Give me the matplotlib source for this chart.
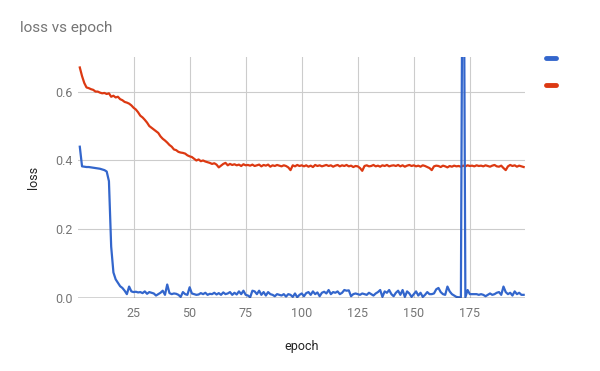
import numpy as np
import matplotlib.pyplot as plt
from matplotlib.lines import Line2D

plt.rcParams['font.family'] = ['Roboto', 'DejaVu Sans']

epochs = np.arange(1, 200)

# training loss (blue)
loss = [0.440, 0.383, 0.382, 0.381, 0.381, 0.380, 0.379, 0.378, 0.377, 0.376,
        0.374, 0.372, 0.368, 0.340, 0.150, 0.075, 0.055, 0.045, 0.035, 0.030,
        0.022, 0.012, 0.034, 0.020, 0.018, 0.019, 0.017, 0.018, 0.015, 0.020,
        0.013, 0.018, 0.016, 0.014, 0.008, 0.012, 0.016, 0.022, 0.010, 0.040,
        0.015, 0.012, 0.014, 0.013, 0.010, 0.004, 0.018, 0.012, 0.010, 0.032,
        0.014, 0.012, 0.010, 0.011, 0.015, 0.012, 0.016, 0.010, 0.013, 0.012,
        0.016, 0.011, 0.015, 0.010, 0.017, 0.012, 0.014, 0.018, 0.010, 0.016,
        0.011, 0.020, 0.012, 0.022, 0.010, 0.008, 0.003, 0.022, 0.020, 0.012,
        0.022, 0.010, 0.018, 0.008, 0.018, 0.012, 0.010, 0.006, 0.012, 0.010,
        0.008, 0.012, 0.005, 0.012, 0.010, 0.004, 0.014, 0.003, 0.010, 0.014,
        0.006, 0.015, 0.018, 0.010, 0.020, 0.012, 0.017, 0.006, 0.016, 0.019,
        0.014, 0.024, 0.012, 0.018, 0.016, 0.020, 0.012, 0.016, 0.024, 0.022,
        0.023, 0.006, 0.012, 0.014, 0.012, 0.010, 0.014, 0.012, 0.010, 0.016,
        0.012, 0.008, 0.014, 0.018, 0.024, 0.004, 0.020, 0.016, 0.024, 0.012,
        0.006, 0.016, 0.022, 0.010, 0.024, 0.004, 0.020, 0.014, 0.004, 0.012,
        0.020, 0.008, 0.016, 0.004, 0.010, 0.018, 0.012, 0.012, 0.014, 0.026,
        0.030, 0.018, 0.012, 0.010, 0.034, 0.020, 0.012, 0.008, 0.004, 0.003,
        0.003, 1.500, 0.003, 0.024, 0.012, 0.012, 0.012, 0.012, 0.010, 0.012,
        0.010, 0.006, 0.010, 0.014, 0.010, 0.012, 0.016, 0.018, 0.010, 0.034,
        0.018, 0.012, 0.016, 0.008, 0.020, 0.012, 0.016, 0.010, 0.010]

# validation loss (red)
val_loss = [0.670, 0.645, 0.625, 0.612, 0.610, 0.607, 0.605, 0.600, 0.600, 0.597,
            0.595, 0.596, 0.593, 0.595, 0.585, 0.588, 0.583, 0.585, 0.578, 0.575,
            0.570, 0.568, 0.565, 0.560, 0.553, 0.548, 0.540, 0.530, 0.525, 0.518,
            0.510, 0.500, 0.495, 0.490, 0.485, 0.480, 0.470, 0.463, 0.458, 0.452,
            0.445, 0.440, 0.432, 0.430, 0.425, 0.423, 0.422, 0.420, 0.415, 0.412,
            0.410, 0.405, 0.400, 0.403, 0.398, 0.400, 0.397, 0.395, 0.393, 0.390,
            0.392, 0.388, 0.380, 0.385, 0.390, 0.393, 0.386, 0.390, 0.387, 0.389,
            0.386, 0.388, 0.384, 0.389, 0.386, 0.387, 0.385, 0.388, 0.384, 0.386,
            0.388, 0.383, 0.387, 0.385, 0.388, 0.382, 0.386, 0.384, 0.387, 0.385,
            0.383, 0.386, 0.384, 0.380, 0.372, 0.386, 0.383, 0.387, 0.384, 0.386,
            0.383, 0.386, 0.382, 0.385, 0.381, 0.387, 0.384, 0.386, 0.383, 0.385,
            0.387, 0.384, 0.386, 0.382, 0.385, 0.387, 0.383, 0.386, 0.384, 0.387,
            0.383, 0.385, 0.381, 0.384, 0.383, 0.378, 0.370, 0.384, 0.386, 0.383,
            0.384, 0.387, 0.383, 0.385, 0.382, 0.386, 0.384, 0.387, 0.383, 0.385,
            0.386, 0.384, 0.387, 0.383, 0.386, 0.382, 0.385, 0.387, 0.384, 0.386,
            0.383, 0.385, 0.382, 0.386, 0.384, 0.381, 0.378, 0.372, 0.383, 0.385,
            0.384, 0.381, 0.385, 0.383, 0.380, 0.384, 0.382, 0.385, 0.383, 0.384,
            0.382, 0.385, 0.383, 0.386, 0.384, 0.385, 0.383, 0.386, 0.384, 0.385,
            0.383, 0.386, 0.384, 0.382, 0.385, 0.387, 0.383, 0.382, 0.385, 0.378,
            0.372, 0.383, 0.387, 0.384, 0.386, 0.382, 0.385, 0.383, 0.381]

xticks = [25, 50, 75, 100, 125, 150, 175]
yticks = [0.0, 0.2, 0.4, 0.6]

blue = '#3366cc'
red = '#dc3912'

fig = plt.figure(figsize=(6, 3.71), dpi=100)
ax = fig.add_axes([0.13, 0.196, 0.745, 0.650])

ax.plot(epochs, val_loss, color=red, lw=1.6, zorder=3)
ax.plot(epochs, loss, color=blue, lw=1.6, zorder=4)

ax.set_xlim(0.2, 199.6)
ax.set_ylim(0, 0.70)
ax.set_xticks(xticks)
ax.set_yticks(yticks)
ax.set_yticklabels(['0.0', '0.2', '0.4', '0.6'])
ax.grid(True, color='#cccccc', lw=0.8)
ax.axhline(0, color='#333333', lw=1.0, zorder=5)
for s in ax.spines.values():
    s.set_visible(False)
ax.tick_params(axis='x', length=0, labelsize=9, labelcolor='#757575', pad=6)
ax.tick_params(axis='y', length=0, labelsize=9, labelcolor='#757575', pad=4)

ax.set_xlabel('epoch', fontsize=9, color='#222222', labelpad=15)
ax.set_ylabel('loss', fontsize=9, color='#222222', labelpad=11)

fig.text(20 / 600, 1 - 28 / 371, 'loss vs epoch', fontsize=11, color='#757575',
         va='center', ha='left')

# legend keys (no labels)
for y, c in [(58.3, blue), (85.3, red)]:
    fig.add_artist(Line2D([546 / 600, 556 / 600], [1 - y / 371] * 2,
                          transform=fig.transFigure, color=c, lw=3.5,
                          solid_capstyle='round'))

fig.savefig('out.png', dpi=100)
